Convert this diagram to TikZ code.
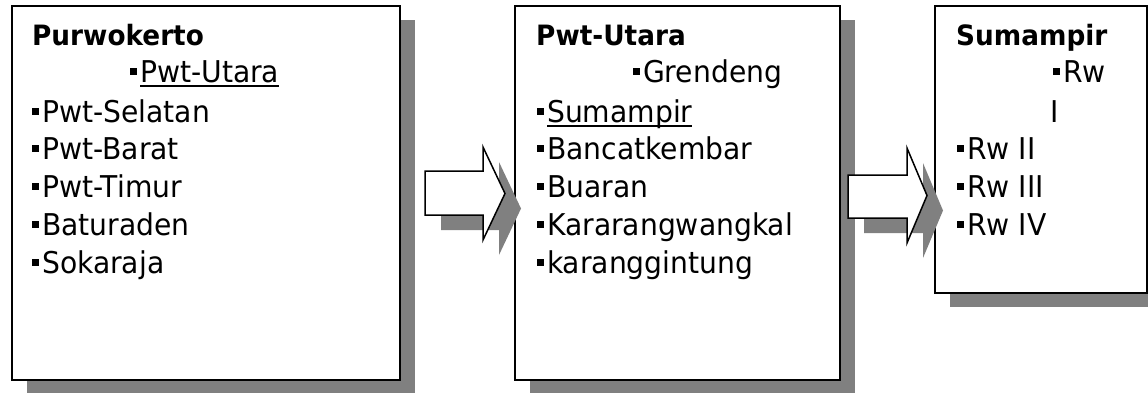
\documentclass[tikz,border=0pt]{standalone}
\usepackage{fontspec}
\setmainfont{DejaVu Sans}[FakeStretch=0.94]
\usetikzlibrary{shadows}
\definecolor{shadowgray}{HTML}{808080}
% square list bullet and underlined entry
\newcommand\bul{\rule[0.23em]{0.23em}{0.23em}\hspace{0.1em}}
\newcommand\ulword[1]{\setbox0\hbox{#1}\rlap{\rule[-5pt]{\wd0}{1.8pt}}\box0}
\begin{document}
\begin{tikzpicture}[x=1pt,y=-1pt,
  panel/.style={draw=black,line width=1.5pt,fill=white,inner sep=0pt,
    drop shadow={shadow xshift=15pt,shadow yshift=-14pt,fill=shadowgray,opacity=1}},
  head/.style={anchor=base west,inner sep=0pt,font=\fontsize{28}{34}\selectfont\bfseries},
  item/.style={anchor=base west,inner sep=0pt,font=\fontsize{30}{36}\selectfont},
  blockarrow/.style={draw=black,line width=1.5pt,fill=white,line join=miter},
  blockshadow/.style={fill=shadowgray}]
\useasboundingbox (0,0) rectangle (1148,392);
\clip (0,0) rectangle (1148,392);

% three panels
\node[panel,minimum width=388pt,minimum height=374pt] (p1) at (206,193) {};
\node[panel,minimum width=325pt,minimum height=374pt] (p2) at (677.5,193) {};
\node[panel,minimum width=212pt,minimum height=287pt] (p3) at (1041,149.5) {};

% first panel
\node[head] (t1) at (32,45) {Purwokerto};
\node[item] (a1) at (130,82) {\bul\ulword{Pwt-Utara}};
\node[item] (a2) at (32,122) {\bul Pwt-Selatan};
\node[item] (a3) at (32,159) {\bul Pwt-Barat};
\node[item] (a4) at (32,197) {\bul Pwt-Timur};
\node[item] (a5) at (32,235) {\bul Baturaden};
\node[item] (a6) at (32,273) {\bul Sokaraja};

% second panel
\node[head] (t2) at (536,45) {Pwt-Utara};
\node[item] (b1) at (633,82) {\bul Grendeng};
\node[item] (b2) at (537,122) {\bul\ulword{Sumampir}};
\node[item] (b3) at (537,159) {\bul Bancatkembar};
\node[item] (b4) at (537,197) {\bul Buaran};
\node[item] (b5) at (537,235) {\bul Kararangwangkal};
\node[item] (b6) at (537,273) {\bul karanggintung};

% third panel
\node[head] (t3) at (956,45) {Sumampir};
\node[item] (c1) at (1053,82) {\bul Rw};
\node[item] (c1b) at (1050,122) {I};
\node[item] (c2) at (957,159) {\bul Rw II};
\node[item] (c3) at (957,197) {\bul Rw III};
\node[item] (c4) at (957,235) {\bul Rw IV};

% block arrows between panels
\foreach \n/\xa/\xb/\xt/\ya/\yb/\ha/\hb in
  {1/425/483/505/171/215/147/240, 2/848/907/927/175/218/148/243}{
  \fill[blockshadow,shift={(16,15)}]
    (\xa,\ya) -- (\xb,\ya) -- (\xb,\ha) -- (\xt,{(\ha+\hb)/2}) -- (\xb,\hb)
    -- (\xb,\yb) -- (\xa,\yb) -- cycle;
  \draw[blockarrow]
    (\xa,\ya) -- (\xb,\ya) -- (\xb,\ha) -- (\xt,{(\ha+\hb)/2}) -- (\xb,\hb)
    -- (\xb,\yb) -- (\xa,\yb) -- cycle;
}
\end{tikzpicture}
\end{document}
